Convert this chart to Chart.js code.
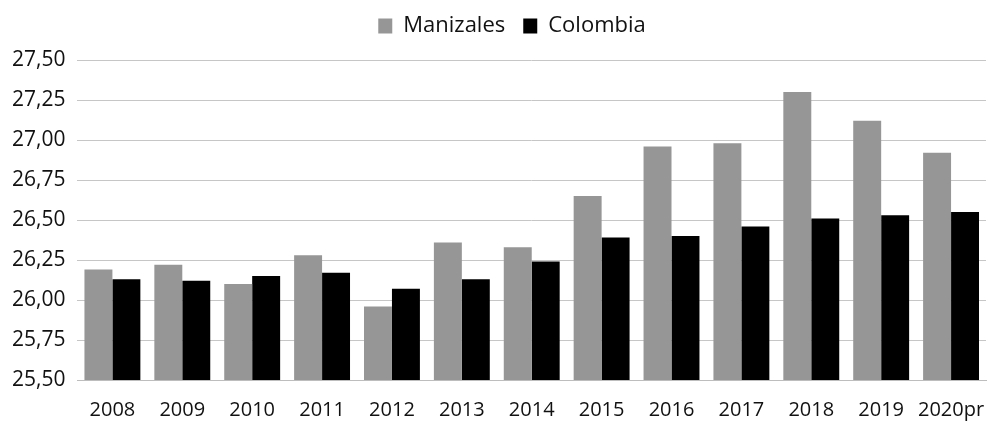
<!DOCTYPE html>
<html>
<head>
<meta charset="utf-8">
<script src="https://cdn.jsdelivr.net/npm/chart.js@4/dist/chart.umd.min.js"></script>
<style>
  html, body { margin: 0; padding: 0; background: #fff; }
  #wrap { width: 987px; height: 425px; }
</style>
</head>
<body>
<div id="wrap"><canvas id="chart" width="987" height="425"></canvas></div>
<script>
const years = ["2008", "2009", "2010", "2011", "2012", "2013", "2014", "2015", "2016", "2017", "2018", "2019", "2020pr"];
const manizales = [26.19, 26.22, 26.10, 26.28, 25.96, 26.36, 26.33, 26.65, 26.96, 26.98, 27.30, 27.12, 26.92];
const colombia = [26.13, 26.12, 26.15, 26.17, 26.07, 26.13, 26.24, 26.39, 26.40, 26.46, 26.51, 26.53, 26.55];

const FONT = "'Open Sans', 'Noto Sans', sans-serif";

// more space under the legend, and nudge it a bit like the original
const legendTweak = {
  id: "legendTweak",
  beforeInit(chart) {
    const lg = chart.legend;
    const origFit = lg.fit;
    lg.fit = function () {
      origFit.call(this);
      this.height += 8;
    };
    const origDraw = lg.draw;
    lg.draw = function () {
      const ctx = this.ctx;
      ctx.save();
      ctx.translate(19, -5);
      origDraw.call(this);
      ctx.restore();
    };
  },
};

const chart = new Chart(document.getElementById("chart"), {
  type: "bar",
  data: {
    labels: years,
    datasets: [
      {
        label: "Manizales",
        data: manizales,
        backgroundColor: "#969696",
        borderWidth: 0,
        categoryPercentage: 0.8,
        barPercentage: 1.0,
      },
      {
        label: "Colombia",
        data: colombia,
        backgroundColor: "#000000",
        borderWidth: 0,
        categoryPercentage: 0.8,
        barPercentage: 1.0,
      },
    ],
  },
  options: {
    responsive: false,
    animation: false,
    layout: { padding: { left: 0, right: 1, top: 2, bottom: 0 } },
    plugins: {
      legend: {
        position: "top",
        labels: {
          color: "#111",
          font: { family: FONT, size: 22 },
          boxWidth: 14,
          boxHeight: 15,
          padding: 18,
        },
      },
      tooltip: { enabled: false },
    },
    scales: {
      x: {
        grid: { display: false, drawTicks: false },
        border: { color: "#bdbdbd" },
        ticks: {
          color: "#111",
          font: { family: FONT, size: 20 },
          padding: 18,
          maxRotation: 0,
          autoSkip: false,
        },
        afterFit: (s) => {
          s.paddingLeft = 0;
          s.paddingRight = 0;
          s.height = 45;
        },
      },
      y: {
        min: 25.5,
        max: 27.5,
        grid: { color: "#c6c6c6", drawTicks: false },
        border: { display: false },
        ticks: {
          stepSize: 0.25,
          color: "#111",
          font: { family: FONT, size: 21 },
          padding: 12,
          callback: (v) => v.toFixed(2).replace(".", ","),
        },
      },
    },
  },
  plugins: [legendTweak],
});
</script>
</body>
</html>
